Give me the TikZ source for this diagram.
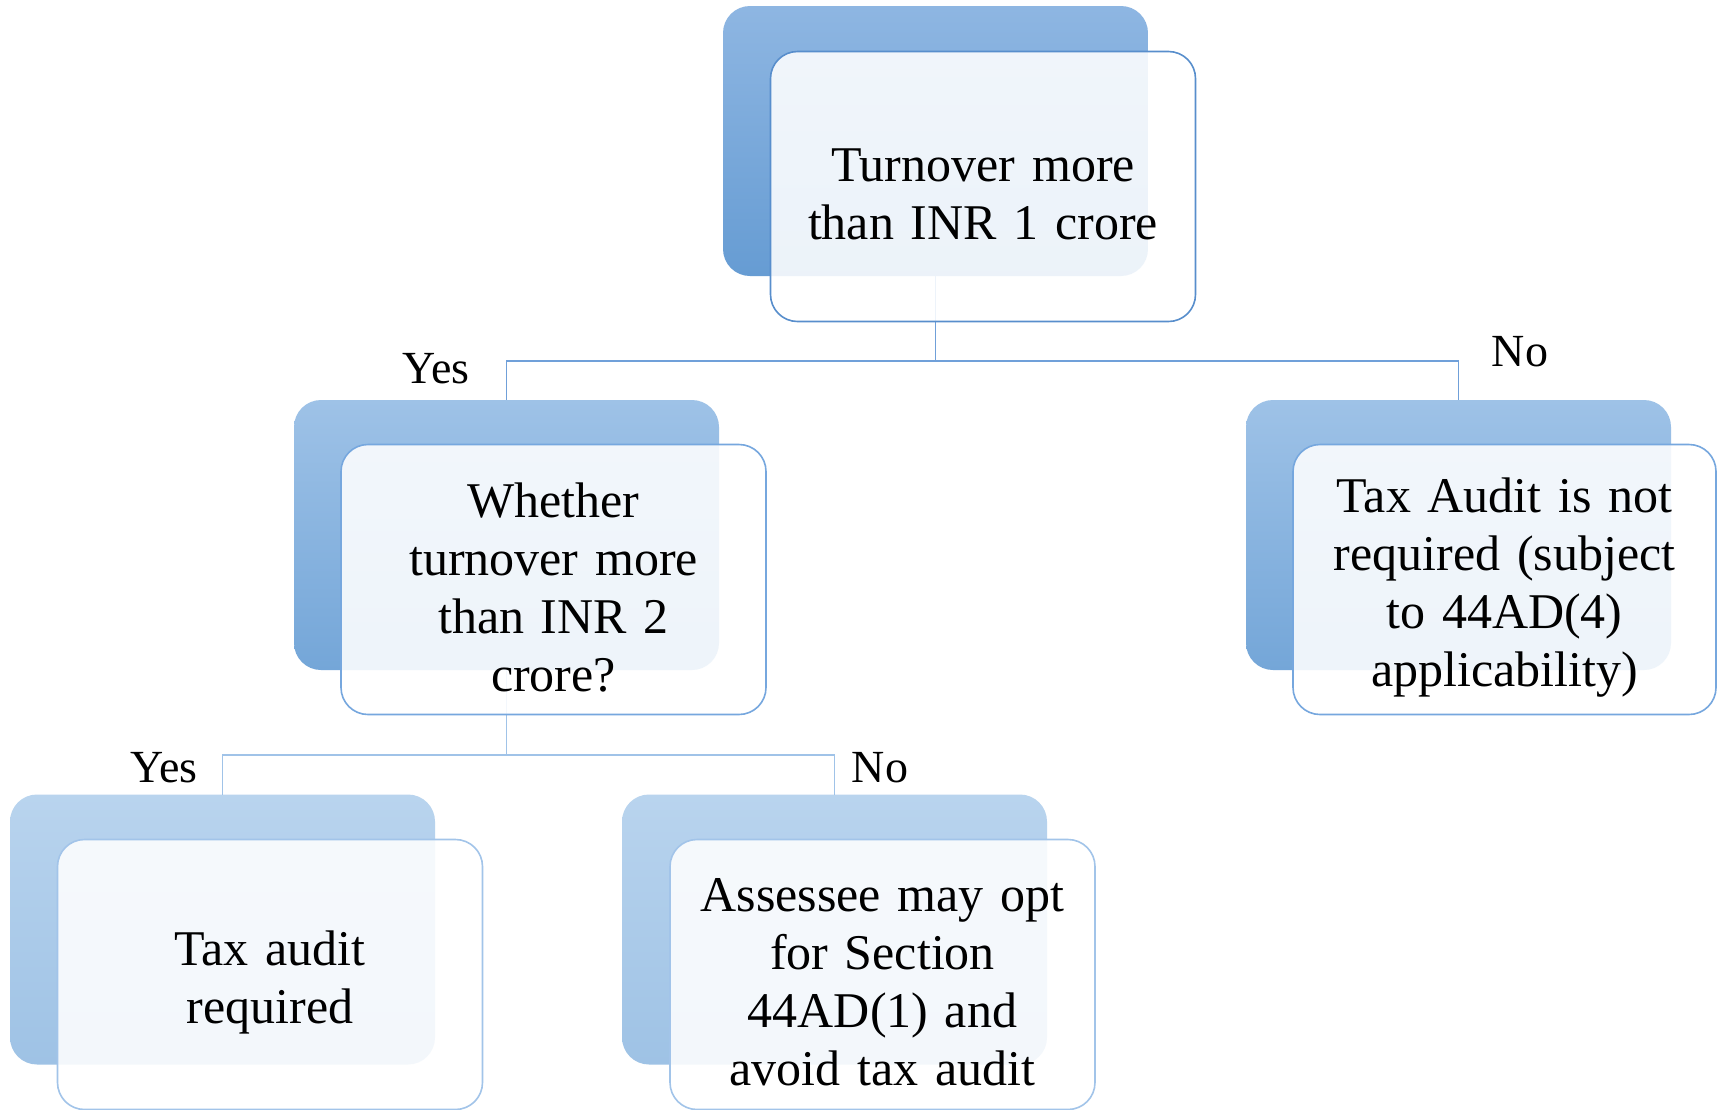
\documentclass[tikz,border=0pt]{standalone}
\usepackage{fontspec}
\setmainfont{Liberation Serif}
\begin{document}
\begin{tikzpicture}[x=1pt,y=-1pt,
  backbox/.style={rectangle,rounded corners=27pt,minimum width=425pt,minimum height=270pt,inner sep=0pt,outer sep=0pt,draw=none},
  frontbox/.style={rectangle,rounded corners=27pt,minimum width=425pt,minimum height=270pt,inner sep=0pt,outer sep=0pt,
    fill=white,fill opacity=0.88,line width=1.6pt},
  boxtext/.style={inner sep=0pt,text width=380pt,align=center,yshift=-8pt,
    font=\fontsize{50}{58}\selectfont},
  lvla/.style={top color=bA,bottom color=bAd},
  lvlb/.style={top color=bB,bottom color=bBd},
  lvlc/.style={top color=bC,bottom color=bCd},
  conn/.style={line width=1.8pt},
  lab/.style={font=\fontsize{46}{50}\selectfont,anchor=base,inner sep=0pt}
]
\definecolor{bA}{RGB}{142,182,226}
\definecolor{bAd}{RGB}{102,156,211}
\definecolor{bB}{RGB}{158,194,231}
\definecolor{bBd}{RGB}{116,166,216}
\definecolor{bC}{RGB}{185,212,238}
\definecolor{bCd}{RGB}{158,194,229}
\definecolor{fA}{RGB}{88,142,204}
\definecolor{fB}{RGB}{118,167,222}
\definecolor{fC}{RGB}{162,196,233}
\definecolor{cA}{RGB}{112,160,217}
\definecolor{cB}{RGB}{160,195,232}

\useasboundingbox (0,0) rectangle (1718,1109);
\fill[white] (0,0) rectangle (1718,1109);

% back boxes
\node[backbox,lvla] (tb) at (935.5,141) {};
\node[backbox,lvlb] (lb) at (506.5,535) {};
\node[backbox,lvlb] (rb) at (1458.5,535) {};
\node[backbox,lvlc] (blb) at (222.5,929.5) {};
\node[backbox,lvlc] (bmb) at (834.5,929.5) {};

% connectors
\coordinate (c1) at (935.5,361);
\coordinate (c2) at (506.5,755);
\draw[conn,cA] (tb.south) -- (c1) -| (lb.north);
\draw[conn,cA] (c1) -| (rb.north);
\draw[conn,cB] (lb.south) -- (c2) -| (blb.north);
\draw[conn,cB] (c2) -| (bmb.north);

% front boxes
\node[frontbox,draw=fA] (tf) at (983,186.5) {};
\node[frontbox,draw=fB] (lf) at (553.5,579.5) {};
\node[frontbox,draw=fB,minimum width=423pt] (rf) at (1504.5,579.5) {};
\node[frontbox,draw=fC] (blf) at (270,974.5) {};
\node[frontbox,draw=fC] (bmf) at (882.5,974.5) {};

% box texts
\node[boxtext] (tft) at (tf.center) {Turnover more\\than INR 1 crore};
\node[boxtext] (lft) at (lf.center) {Whether\\turnover more\\than INR 2\\crore?};
\node[boxtext] (rft) at (rf.center) {Tax Audit is not\\required (subject\\to 44AD(4)\\applicability)};
\node[boxtext] (blft) at (blf.center) {Tax audit\\required};
\node[boxtext] (bmft) at (bmf.center) {Assessee may opt\\for Section\\44AD(1) and\\avoid tax audit};

% labels
\node[lab] (y1) at (436,383) {Yes};
\node[lab] (n1) at (1520,366) {No};
\node[lab] (y2) at (164,782) {Yes};
\node[lab] (n2) at (880,782) {No};
\end{tikzpicture}
\end{document}
